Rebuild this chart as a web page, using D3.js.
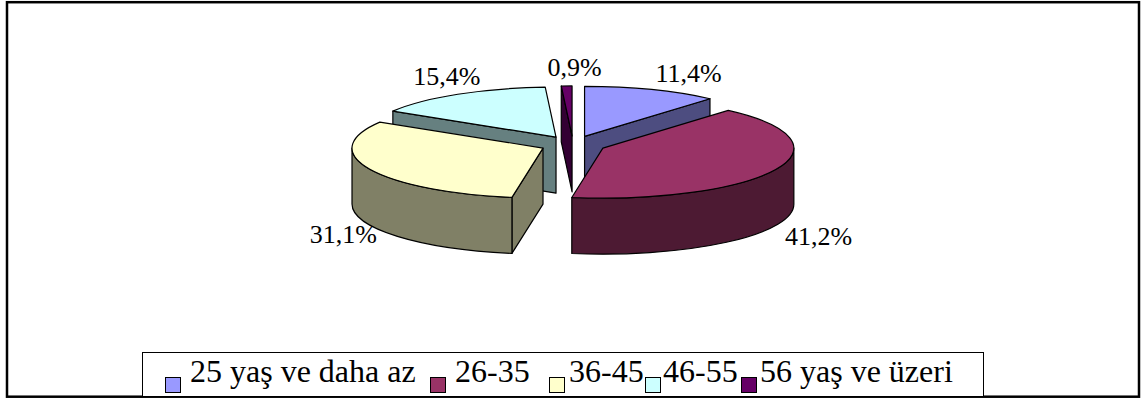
<!DOCTYPE html>
<html>
<head>
<meta charset="utf-8">
<script src="https://cdn.jsdelivr.net/npm/d3@7"></script>
<style>
  body { margin: 0; background: #fff; }
  svg { display: block; }
</style>
</head>
<body>
<div class="diagram"></div>
<script>
var width = 1144, height = 398;
var serif = "'Liberation Serif', 'Times New Roman', Times, 'DejaVu Serif', serif";

// data
var categories = ["25 yaş ve daha az", "26-35", "36-45", "46-55", "56 yaş ve üzeri"];
var values = [11.4, 41.2, 31.1, 15.4, 0.9];
var colors = ["#9999FF", "#993366", "#FFFFCC", "#CCFFFF", "#660066"];

// pie geometry (3D, exploded)
var cx = 573, cy = 144.5, rx = 191, ry = 50, depth = 56, ex = 33, ey = 8.6;
// label placement tweaks, relative to rim anchor
var labelNudge = [[37, -8], [43, 20], [-26, 18], [-11, -9], [8, -10]];
// legend layout
var legendSq = [165, 430, 549, 645, 741], legendTx = [190, 455, 569, 663, 760];

var svg = d3.select('.diagram')
  .append('svg')
  .attr('width', width)
  .attr('height', height);

svg.append('rect')
  .attr('x', 7).attr('y', 2.2)
  .attr('width', 1132).attr('height', 394.5)
  .attr('fill', '#fff')
  .attr('stroke', '#000')
  .attr('stroke-width', 2.5);

var pie = d3.pie().sort(null).value(function(d) { return d; });
var arcs = pie(values).map(function(d, i) {
  var mid = (d.startAngle + d.endAngle) / 2;
  return {
    i: i,
    a: d.startAngle,
    b: d.endAngle,
    mid: mid,
    c: [cx + ex * Math.sin(mid), cy - ey * Math.cos(mid)],
    value: d.value
  };
});

function rim(c, t, dz) {
  return [c[0] + rx * Math.sin(t), c[1] - ry * Math.cos(t) + (dz || 0)];
}
function p(pt) { return pt[0] + ',' + pt[1]; }

function side(c) {
  var k = d3.rgb(c);
  return d3.rgb(k.r * 0.5, k.g * 0.5, k.b * 0.5).toString();
}

function radialFace(s, t) {
  var r0 = rim(s.c, t), r1 = rim(s.c, t, depth);
  return 'M' + p(s.c) + 'L' + p(r0) + 'L' + p(r1) + 'L' + p([s.c[0], s.c[1] + depth]) + 'Z';
}

// back slices first
var order = arcs.slice().sort(function(u, v) { return Math.cos(v.mid) - Math.cos(u.mid); });

var g = svg.append('g').attr('class', 'pie');

order.forEach(function(s) {
  var col = colors[s.i], dark = side(col);
  var sg = g.append('g').attr('class', 'slice');

  // visible cut faces
  if (Math.sin(s.a) < -1e-6) {
    sg.append('path').attr('d', radialFace(s, s.a))
      .attr('fill', dark).attr('stroke', '#000').attr('stroke-width', 1.2).attr('stroke-linejoin', 'round');
  }
  if (Math.sin(s.b) > 1e-6) {
    sg.append('path').attr('d', radialFace(s, s.b))
      .attr('fill', dark).attr('stroke', '#000').attr('stroke-width', 1.2).attr('stroke-linejoin', 'round');
  }

  // outer wall (front half)
  var w0 = Math.max(s.a, Math.PI / 2), w1 = Math.min(s.b, Math.PI * 1.5);
  if (w1 > w0) {
    var t0 = rim(s.c, w0), t1 = rim(s.c, w1), b0 = rim(s.c, w0, depth), b1 = rim(s.c, w1, depth);
    sg.append('path')
      .attr('d', 'M' + p(t0) + 'A' + rx + ',' + ry + ' 0 0 1 ' + p(t1) +
                 'L' + p(b1) + 'A' + rx + ',' + ry + ' 0 0 0 ' + p(b0) + 'Z')
      .attr('fill', dark).attr('stroke', '#000').attr('stroke-width', 1.2).attr('stroke-linejoin', 'round');
  }

  // top face
  var large = (s.b - s.a) > Math.PI ? 1 : 0;
  sg.append('path')
    .attr('d', 'M' + p(s.c) + 'L' + p(rim(s.c, s.a)) + 'A' + rx + ',' + ry + ' 0 ' + large + ' 1 ' + p(rim(s.c, s.b)) + 'Z')
    .attr('fill', col).attr('stroke', '#000').attr('stroke-width', 1.2).attr('stroke-linejoin', 'round');
});

// data labels
var fmt = d3.format('.1f');
svg.append('g').selectAll('text')
  .data(arcs)
  .enter()
  .append('text')
  .attr('text-anchor', 'middle')
  .attr('font-family', serif)
  .attr('font-size', 26)
  .attr('fill', '#000')
  .attr('x', function(d) { return rim(d.c, d.mid)[0] + labelNudge[d.i][0]; })
  .attr('y', function(d) {
    var base = rim(d.c, d.mid, Math.cos(d.mid) < 0 ? depth : 0);
    return base[1] + labelNudge[d.i][1];
  })
  .text(function(d) { return fmt(d.value).replace('.', ',') + '%'; });

// legend
var legend = svg.append('g').attr('class', 'legend');
legend.append('rect')
  .attr('x', 142.5).attr('y', 352.5)
  .attr('width', 841).attr('height', 44)
  .attr('fill', '#fff').attr('stroke', '#000').attr('stroke-width', 1);

var item = legend.selectAll('.item')
  .data(categories)
  .enter()
  .append('g')
  .attr('class', 'item');

item.append('rect')
  .attr('x', function(d, i) { return legendSq[i] + 0.5; })
  .attr('y', 377.5)
  .attr('width', 15).attr('height', 15)
  .attr('fill', function(d, i) { return colors[i]; })
  .attr('stroke', '#000').attr('stroke-width', 1);

item.append('text')
  .attr('x', function(d, i) { return legendTx[i]; })
  .attr('y', 382)
  .attr('font-family', serif)
  .attr('font-size', 32)
  .attr('fill', '#000')
  .text(function(d) { return d; });
</script>
</body>
</html>
